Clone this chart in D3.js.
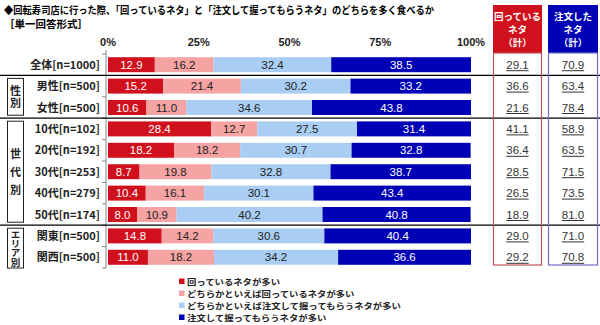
<!DOCTYPE html>
<html><head><meta charset="utf-8">
<script src="https://cdn.jsdelivr.net/npm/d3@7"></script>
<style>body{margin:0;background:#fff}svg{display:block}</style>
</head><body>
<script>
const categories = ["全体[n=1000]","男性[n=500]","女性[n=500]","10代[n=102]","20代[n=192]","30代[n=253]","40代[n=279]","50代[n=174]","関東[n=500]","関西[n=500]"];
const seriesNames = ["回っているネタが多い","どちらかといえば回っているネタが多い","どちらかといえば注文して握ってもらうネタが多い","注文して握ってもらうネタが多い"];
const s1 = [12.9,15.2,10.6,28.4,18.2,8.7,10.4,8.0,14.8,11.0];
const s2 = [16.2,21.4,11.0,12.7,18.2,19.8,16.1,10.9,14.2,18.2];
const s3 = [32.4,30.2,34.6,27.5,30.7,32.8,30.1,40.2,30.6,34.2];
const s4 = [38.5,33.2,43.8,31.4,32.8,38.7,43.4,40.8,40.4,36.6];
const totalKaiten = ["29.1","36.6","21.6","41.1","36.4","28.5","26.5","18.9","29.0","29.2"];
const totalChumon = ["70.9","63.4","78.4","58.9","63.5","71.5","73.5","81.0","71.0","70.8"];
const tickLabels = ["0%","25%","50%","75%","100%"];
const tickValues = [0,25,50,75,100];
const groups = [{name:"性別",from:1,to:2},{name:"世代別",from:3,to:7},{name:"エリア別",from:8,to:9}];
const separators = [1,3,8];
const colors = ["#d0101c","#f5a3a3","#a9cdf3","#0000b4"];
const textColors = ["#fff","#222","#222","#fff"];

const W=600,H=325;
const jp = "'Noto Sans CJK JP','Noto Sans',sans-serif";
const num = "'Liberation Sans',Arial,sans-serif";
const svg = d3.select("body").append("svg").attr("width",W).attr("height",H);

const x = d3.scaleLinear().domain([0,100]).range([108,471]);
const y = d3.scaleBand().domain(categories).range([54,268]).paddingInner(0.3).paddingOuter(0.15);
const step = y.step();
const top0 = 54;

// title
svg.append("text").attr("x",4).attr("y",14).attr("font-family",jp).attr("font-weight","bold").attr("font-size",10.5)
  .attr("textLength",430).attr("lengthAdjust","spacingAndGlyphs")
  .text("◆回転寿司店に行った際、「回っているネタ」と「注文して握ってもらうネタ」のどちらを多く食べるか");
svg.append("text").attr("x",4).attr("y",28).attr("font-family",jp).attr("font-weight","bold").attr("font-size",10.5)
  .text("［単一回答形式］");

// axis labels
svg.append("g").selectAll("text").data(tickValues).join("text")
  .attr("x",d=>x(d)).attr("y",46).attr("text-anchor","middle").attr("font-family",num).attr("font-size",11).attr("font-weight","bold").attr("fill","#222")
  .text((d,i)=>tickLabels[i]);

// stacked bars
const rows = categories.map((c,i)=>({c, v:[s1[i],s2[i],s3[i],s4[i]]}));
rows.forEach((r,i)=>{
  let acc=0;
  const g = svg.append("g");
  r.v.forEach((v,k)=>{
    const x0=x(acc), x1=x(acc+v);
    g.append("rect").attr("x",x0).attr("y",y(r.c)).attr("width",x1-x0).attr("height",y.bandwidth()).attr("fill",colors[k]);
    g.append("text").attr("x",(x0+x1)/2).attr("y",y(r.c)+y.bandwidth()/2+4).attr("text-anchor","middle")
      .attr("font-family",num).attr("font-size",11.5).attr("fill",textColors[k]).text(v.toFixed(1));
    acc+=v;
  });
});

// y axis line and ticks
svg.append("line").attr("x1",106).attr("x2",106).attr("y1",50).attr("y2",268).attr("stroke","#888").attr("stroke-width",1);
d3.range(categories.length+1).forEach(i=>{
  svg.append("line").attr("x1",102).attr("x2",106).attr("y1",top0+i*step).attr("y2",top0+i*step).attr("stroke","#888");
});

// row labels
svg.append("g").selectAll("text").data(categories).join("text")
  .attr("x",100).attr("y",d=>y(d)+y.bandwidth()/2+4).attr("text-anchor","end")
  .attr("font-family",jp).attr("font-weight","bold").attr("font-size",11).attr("fill","#222").text(d=>d);

// separators
separators.forEach(s=>{
  svg.append("line").attr("x1",0).attr("x2",600).attr("y1",top0+s*step).attr("y2",top0+s*step).attr("stroke","#000").attr("stroke-width",1.2);
});

// group boxes (vertical text)
const gStyle = {"性別":{fs:11,ls:1.5},"世代別":{fs:11,ls:7},"エリア別":{fs:9.5,ls:-0.3}};
groups.forEach((g,gi)=>{
  let y0=top0+g.from*step+3, y1=top0+(g.to+1)*step-3;
  if(gi===groups.length-1) y1=268;
  svg.append("rect").attr("x",7.5).attr("y",y0).attr("width",16).attr("height",y1-y0).attr("fill","#fff").attr("stroke","#222").attr("stroke-width",1);
  const st=gStyle[g.name];
  const n=g.name.length;
  const total=n*st.fs+(n-1)*st.ls;
  svg.append("text").attr("x",15.5).attr("y",(y0+y1)/2-total/2)
    .attr("writing-mode","vertical-rl").attr("letter-spacing",st.ls)
    .attr("font-family",jp).attr("font-weight","bold").attr("font-size",st.fs).attr("fill","#222").text(g.name);
});

// right total columns
const cols=[{x0:493,x1:542,fill:"#d0101c",stroke:"#c0505a",head:["回っている","ネタ","（計）"],vals:totalKaiten},
            {x0:548,x1:598,fill:"#0000b4",stroke:"#7070c8",head:["注文した","ネタ","（計）"],vals:totalChumon}];
cols.forEach(c=>{
  const cx=(c.x0+c.x1)/2;
  svg.append("rect").attr("x",c.x0).attr("y",5).attr("width",c.x1-c.x0).attr("height",48).attr("fill",c.fill);
  c.head.forEach((t,j)=>{
    svg.append("text").attr("x",cx).attr("y",20+j*13).attr("text-anchor","middle").attr("font-family",jp)
      .attr("font-weight","bold").attr("font-size",9.5).attr("fill","#fff").text(t);
  });
  svg.append("rect").attr("x",c.x0+0.5).attr("y",53).attr("width",c.x1-c.x0-1).attr("height",212).attr("fill","none").attr("stroke",c.stroke).attr("stroke-width",1.2);
  categories.forEach((cat,i)=>{
    const ty=y(cat)+y.bandwidth()/2+4;
    const t=svg.append("text").attr("x",cx).attr("y",ty).attr("text-anchor","middle").attr("font-family",num)
      .attr("font-size",11.5).attr("fill","#333").text(c.vals[i]);
    const w=t.node().getComputedTextLength();
    svg.append("line").attr("x1",cx-w/2).attr("x2",cx+w/2).attr("y1",ty+2).attr("y2",ty+2).attr("stroke","#333").attr("stroke-width",1);
  });
});

// legend
const lg = svg.append("g");
const lgStep = 12, lgTop = 281.5, lgFs = 8.2, perChar = 9.3;
seriesNames.forEach((n,i)=>{
  const ly = lgTop+i*lgStep;
  lg.append("rect").attr("x",179).attr("y",ly-3).attr("width",5.5).attr("height",5.5).attr("fill",colors[i]);
  lg.append("text").attr("x",187).attr("y",ly+3).attr("font-family",jp).attr("font-weight","bold").attr("font-size",lgFs)
    .attr("textLength",n.length*perChar).attr("lengthAdjust","spacingAndGlyphs").attr("fill","#222").text(n);
});
</script>
</body></html>
